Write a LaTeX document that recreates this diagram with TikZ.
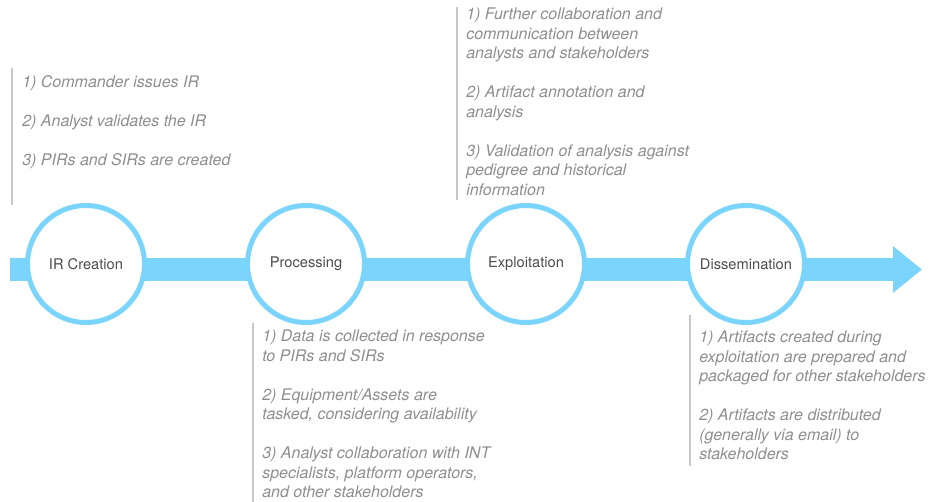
\documentclass[tikz,border=0pt]{standalone}
\usepackage{fontspec}
\setmainfont{TeX Gyre Heros}
\usetikzlibrary{positioning, arrows.meta, backgrounds}
\definecolor{flowblue}{HTML}{7AD4FB}
\definecolor{notegray}{HTML}{8E8E8E}
\definecolor{rulegray}{HTML}{C8C8C8}
\definecolor{labelgray}{HTML}{4D4D4D}

\begin{document}
\begin{tikzpicture}[
    x=0.75pt, y=-0.75pt,
    phase/.style={draw=flowblue, fill=white, circle, line width=3.75pt, minimum size=87.75pt, inner sep=0pt, font=\fontsize{11}{13}\selectfont, text=labelgray},
    note/.style={anchor=north west, align=left, inner sep=0pt, text=notegray, font=\fontsize{12}{14.6}\selectfont\itshape},
    bar/.style={rulegray, line width=1pt},
    band/.style={flowblue, line width=17.25pt, -{Triangle[length=21.75pt, width=33.75pt]}}
]
    \useasboundingbox (0,0) rectangle (933,502);

    % the four phases along the flow
    \node[phase] (ir) at (86,264) {IR Creation};
    \node[phase] (proc) [right=73.5pt of ir] {Processing};
    \node[phase] (expl) [right=73.5pt of proc] {Exploitation};
    \node[phase] (diss) [right=73.5pt of expl] {Dissemination};

    \coordinate (bandstart) at (10,269.5);
    \coordinate (bandend) at (922,269.5);
    \begin{scope}[on background layer]
        \draw[band] (bandstart) -- (bandend);
    \end{scope}

    % notes for each phase
    \node[note] (irnote) at (22,75) {
        1) Commander issues IR\\[14.6pt]
        2) Analyst validates the IR\\[14.6pt]
        3) PIRs and SIRs are created
    };
    \node[note] (explnote) at (466,8) {
        1) Further collaboration and\\
        communication between\\
        analysts and stakeholders\\[14.6pt]
        2) Artifact annotation and\\
        analysis\\[14.6pt]
        3) Validation of analysis against\\
        pedigree and historical\\
        information
    };
    \node[note] (procnote) at (262,330) {
        1) Data is collected in response\\
        to PIRs and SIRs\\[14.6pt]
        2) Equipment/Assets are\\
        tasked, considering availability\\[14.6pt]
        3) Analyst collaboration with INT\\
        specialists, platform operators,\\
        and other stakeholders
    };
    \node[note] (dissnote) at (699,331) {
        1) Artifacts created during\\
        exploitation are prepared and\\
        packaged for other stakeholders\\[14.6pt]
        2) Artifacts are distributed\\
        (generally via email) to\\
        stakeholders
    };

    \draw[bar] ([shift={(-10,-7)}]irnote.north west) -- ++(0,137);
    \draw[bar] ([shift={(-9,-1)}]explnote.north west) -- ++(0,193);
    \draw[bar] ([shift={(-9,-7)}]procnote.north west) -- ++(0,182);
    \draw[bar] ([shift={(-9,-16)}]dissnote.north west) -- ++(0,151);
\end{tikzpicture}
\end{document}
